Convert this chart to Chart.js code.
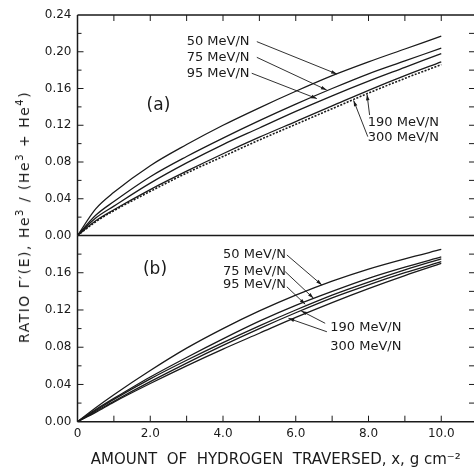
<!DOCTYPE html>
<html>
<head>
<meta charset="utf-8">
<script src="https://cdn.jsdelivr.net/npm/chart.js@4.4.0/dist/chart.umd.min.js"></script>
<style>
  html, body { margin: 0; padding: 0; background: #fff; }
  #wrap { position: relative; width: 476px; height: 470px; }
  #wrap canvas { position: absolute; left: 0; top: 0; }
  #ytitle {
    position: absolute; left: 24px; top: 217px;
    transform: translate(-50%, -50%) rotate(-90deg);
    white-space: nowrap; color: #1a1a1a;
    font: 14px "DejaVu Sans"; letter-spacing: 1.5px;
  }
  #ytitle sup { font-size: 10px; line-height: 0; }
</style>
</head>
<body>
<div id="wrap">
  <canvas id="chartA" width="476" height="470"></canvas>
  <canvas id="chartB" width="476" height="470"></canvas>
  <div id="ytitle">RATIO Γ′(E), He<sup>3</sup> / (He<sup>3</sup> + He<sup>4</sup>)</div>
</div>
<script>
// x in g cm^-2
const xValues = [0, 0.5, 1, 2, 3, 4, 5, 6, 7, 8, 9, 10];
const energies = ['50 MeV/N', '75 MeV/N', '95 MeV/N', '190 MeV/N', '300 MeV/N'];

// panel (a)
const ratioA50 = [0, 0.029, 0.047, 0.076, 0.099, 0.120, 0.139, 0.157, 0.174, 0.189, 0.203, 0.217];
const ratioA75 = [0, 0.022, 0.037, 0.064, 0.086, 0.106, 0.125, 0.143, 0.160, 0.176, 0.190, 0.204];
const ratioA95 = [0, 0.019, 0.032, 0.057, 0.079, 0.099, 0.117, 0.135, 0.152, 0.168, 0.183, 0.198];
const ratioA190 = [0, 0.016, 0.028, 0.050, 0.070, 0.089, 0.107, 0.124, 0.141, 0.158, 0.174, 0.189];
const ratioA300 = [0, 0.015, 0.027, 0.048, 0.068, 0.086, 0.104, 0.121, 0.138, 0.155, 0.171, 0.186];

// panel (b)
const ratioB50 = [0, 0.015, 0.029, 0.055, 0.079, 0.100, 0.119, 0.136, 0.151, 0.164, 0.175, 0.185];
const ratioB75 = [0, 0.013, 0.025, 0.048, 0.069, 0.089, 0.108, 0.125, 0.140, 0.154, 0.166, 0.177];
const ratioB95 = [0, 0.012, 0.024, 0.046, 0.066, 0.085, 0.103, 0.120, 0.136, 0.150, 0.163, 0.175];
const ratioB190 = [0, 0.011, 0.022, 0.043, 0.063, 0.082, 0.100, 0.117, 0.133, 0.147, 0.160, 0.172];
const ratioB300 = [0, 0.010, 0.021, 0.041, 0.060, 0.078, 0.095, 0.112, 0.128, 0.143, 0.157, 0.170];

const xTickValues = [0, 1, 2, 3, 4, 5, 6, 7, 8, 9, 10];
const xTickLabels = ['0', '2.0', '4.0', '6.0', '8.0', '10.0'];
const yTickLabelsA = ['0.00', '0.04', '0.08', '0.12', '0.16', '0.20', '0.24'];
const yTickLabelsB = ['0.00', '0.04', '0.08', '0.12', '0.16'];

const INK = '#1a1a1a';
const FONT = 'DejaVu Sans';

// text notes and leader lines, in data units
const notesA = {
  labels: [
    { text: '50 MeV/N', x: 3.0, y: 0.211 },
    { text: '75 MeV/N', x: 3.0, y: 0.194 },
    { text: '95 MeV/N', x: 3.0, y: 0.1765 },
    { text: '(a)', x: 1.9, y: 0.141, size: 17 },
    { text: '190 MeV/N', x: 7.98, y: 0.1228 },
    { text: '300 MeV/N', x: 7.98, y: 0.1065 },
  ],
  leaders: [
    [4.93, 0.211, 7.13, 0.1758],
    [4.93, 0.1939, 6.85, 0.1584],
    [4.79, 0.1766, 6.58, 0.1490],
    [8.03, 0.1311, 7.96, 0.1535],
    [7.98, 0.1076, 7.59, 0.1470],
  ],
};
const notesB = {
  labels: [
    { text: '50 MeV/N', x: 4.0, y: 0.1791 },
    { text: '75 MeV/N', x: 4.0, y: 0.1612 },
    { text: '95 MeV/N', x: 4.0, y: 0.1469 },
    { text: '(b)', x: 1.8, y: 0.1633, size: 17 },
    { text: '190 MeV/N', x: 6.95, y: 0.1014 },
    { text: '300 MeV/N', x: 6.95, y: 0.0806 },
  ],
  leaders: [
    [5.755, 0.1791, 6.717, 0.1469],
    [5.709, 0.1612, 6.487, 0.1326],
    [5.755, 0.1449, 6.259, 0.1262],
    [6.809, 0.1057, 6.15, 0.1190],
    [6.856, 0.0966, 5.80, 0.1110],
  ],
};

// frame lines and inward tick marks, placed from the chart's own scales
const framePlugin = {
  id: 'frame',
  afterDatasetsDraw(chart, args, opts) {
    const { ctx, chartArea: a, scales: { x, y } } = chart;
    ctx.save();
    ctx.strokeStyle = INK;
    ctx.lineWidth = 1.5;
    ctx.beginPath();
    ctx.moveTo(a.left, a.top); ctx.lineTo(a.left, a.bottom);
    ctx.moveTo(a.left, a.bottom); ctx.lineTo(a.right, a.bottom);
    if (opts.top) { ctx.moveTo(a.left, a.top); ctx.lineTo(a.right, a.top); }
    ctx.stroke();

    ctx.lineWidth = 1;
    ctx.beginPath();
    x.ticks.forEach(t => {
      if (t.value <= 0) return;
      const px = x.getPixelForValue(t.value);
      if (opts.xSide === 'top') { ctx.moveTo(px, a.top); ctx.lineTo(px, a.top + 6); }
      else { ctx.moveTo(px, a.bottom); ctx.lineTo(px, a.bottom - 6); }
    });
    y.ticks.forEach(t => {
      if (t.value <= 0.0001 || t.value >= y.max - 0.0001) return;
      const py = y.getPixelForValue(t.value);
      const major = Math.round(t.value * 100) % 4 === 0;
      ctx.moveTo(a.left, py); ctx.lineTo(a.left + (major ? 6 : 4), py);
      ctx.moveTo(a.right, py); ctx.lineTo(a.right - 5, py);
    });
    ctx.stroke();
    ctx.restore();
  },
};

function drawArrow(ctx, x0, y0, x1, y1) {
  ctx.beginPath();
  ctx.moveTo(x0, y0);
  ctx.lineTo(x1, y1);
  ctx.stroke();
  const ang = Math.atan2(y1 - y0, x1 - x0);
  ctx.beginPath();
  ctx.moveTo(x1, y1);
  ctx.lineTo(x1 - 6 * Math.cos(ang - 0.3), y1 - 6 * Math.sin(ang - 0.3));
  ctx.lineTo(x1 - 6 * Math.cos(ang + 0.3), y1 - 6 * Math.sin(ang + 0.3));
  ctx.closePath();
  ctx.fill();
}

const notesPlugin = {
  id: 'notes',
  afterDraw(chart, args, opts) {
    const { ctx, scales: { x, y } } = chart;
    ctx.save();
    ctx.fillStyle = INK;
    ctx.strokeStyle = INK;
    ctx.textAlign = 'left';
    ctx.textBaseline = 'middle';
    opts.labels.forEach(l => {
      ctx.font = (l.size || 13) + 'px "' + FONT + '"';
      ctx.fillText(l.text, x.getPixelForValue(l.x), y.getPixelForValue(l.y));
    });
    ctx.lineWidth = 0.9;
    opts.leaders.forEach(([x0, y0, x1, y1]) => {
      drawArrow(ctx, x.getPixelForValue(x0), y.getPixelForValue(y0),
        x.getPixelForValue(x1), y.getPixelForValue(y1));
    });
    ctx.restore();
  },
};

function makeDataset(label, values, dashed) {
  return {
    label,
    data: xValues.map((v, i) => ({ x: v, y: values[i] })),
    borderColor: INK,
    borderWidth: dashed ? 1.6 : 1.3,
    borderDash: dashed ? [2, 1.5] : [],
    pointRadius: 0,
    cubicInterpolationMode: 'monotone',
    fill: false,
  };
}

function makeChart(id, series, cfg) {
  const yCount = Math.round(cfg.yMax / 0.02);
  return new Chart(document.getElementById(id), {
    type: 'line',
    data: {
      datasets: series.map((s, i) => makeDataset(energies[i], s, cfg.dashLast && i === series.length - 1)),
    },
    options: {
      responsive: false,
      animation: false,
      devicePixelRatio: 1,
      layout: { padding: cfg.padding },
      events: [],
      plugins: {
        legend: { display: false },
        tooltip: { enabled: false },
        frame: { top: cfg.top, xSide: cfg.xSide },
        notes: cfg.notes,
      },
      scales: {
        x: {
          type: 'linear',
          min: 0,
          max: 10.9,
          grid: { display: false, drawTicks: false },
          border: { display: false },
          afterBuildTicks: s => { s.ticks = xTickValues.map(v => ({ value: v })); },
          ticks: {
            display: cfg.showX,
            autoSkip: false,
            maxRotation: 0,
            padding: 5,
            color: INK,
            font: { family: FONT, size: 12 },
            callback: v => (Math.round(v) % 2 === 0 ? xTickLabels[Math.round(v) / 2] : ''),
          },
          title: {
            display: cfg.showX,
            text: 'AMOUNT  OF  HYDROGEN  TRAVERSED, x, g cm⁻²',
            color: INK,
            font: { family: FONT, size: 15 },
            padding: { top: 0, bottom: 1 },
          },
          afterFit: s => { s.height = cfg.xHeight; },
        },
        y: {
          min: 0,
          max: cfg.yMax,
          grid: { display: false, drawTicks: false },
          border: { display: false },
          afterBuildTicks: s => {
            s.ticks = Array.from({ length: yCount + 1 }, (_, k) => ({ value: k * 0.02 }));
          },
          ticks: {
            autoSkip: false,
            padding: 6,
            color: INK,
            font: { family: FONT, size: 12 },
            callback: v => {
              const k = Math.round(v * 100);
              return k % 4 === 0 ? (cfg.yLabels[k / 4] || '') : '';
            },
          },
          afterFit: s => { s.width = 77.5; },
        },
      },
    },
    plugins: [framePlugin, notesPlugin],
  });
}

makeChart('chartA', [ratioA50, ratioA75, ratioA95, ratioA190, ratioA300], {
  padding: { top: 15, left: 0, right: 2, bottom: 234.5 },
  yMax: 0.24,
  yLabels: yTickLabelsA,
  showX: false,
  xHeight: 0,
  top: true,
  xSide: 'top',
  dashLast: true,
  notes: notesA,
});

makeChart('chartB', [ratioB50, ratioB75, ratioB95, ratioB190, ratioB300], {
  padding: { top: 235.5, left: 0, right: 2, bottom: 0 },
  yMax: 0.2,
  yLabels: yTickLabelsB,
  showX: true,
  xHeight: 48.3,
  top: false,
  xSide: 'bottom',
  dashLast: false,
  notes: notesB,
});
</script>
</body>
</html>
